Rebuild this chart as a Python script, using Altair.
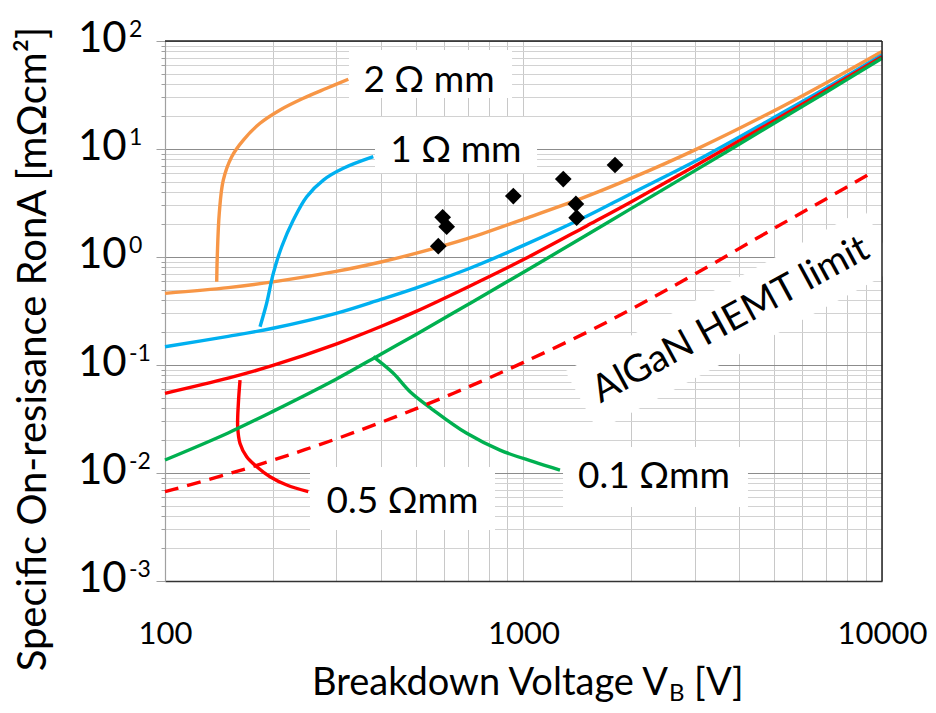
import altair as alt
import pandas as pd

FONT = "Lato"
ORANGE = "#F79646"
BLUE = "#00B0F0"
RED = "#FF0000"
GREEN = "#00B050"

# ---- main curves (Ron*A vs breakdown voltage) ----
V_MAIN = [100, 150, 200, 300, 400, 500, 700, 1000, 1500, 2000, 3000, 5000, 7000, 10000]
R_2OHM = [0.461, 0.521, 0.588, 0.735, 0.899, 1.079, 1.486, 2.24, 3.64, 5.37, 9.77, 22.6, 41.1, 79.8]
R_1OHM = [0.1476, 0.184, 0.219, 0.301, 0.405, 0.516, 0.774, 1.28, 2.38, 3.88, 7.65, 19.6, 36.9, 74.2]
R_05OHM = [0.0547, 0.0755, 0.099, 0.156, 0.227, 0.312, 0.528, 0.946, 1.94, 3.25, 6.93, 18.3, 35.2, 71.6]
R_01OHM = [0.0132, 0.0235, 0.0372, 0.0738, 0.126, 0.191, 0.363, 0.723, 1.60, 2.82, 6.27, 17.3, 33.7, 69.2]

# ---- hook branches ----
V_2H = [139.4, 139.9, 141.7, 145.4, 153.5, 165.4, 184.1, 209.4, 243.1, 282.5, 324.6]
R_2H = [0.590, 1.007, 2.54, 5.16, 8.49, 12.1, 17.3, 23.0, 29.5, 36.5, 44.2]
V_1H = [184.1, 192.1, 200.5, 211.6, 228.0, 248.5, 276.5, 314.3, 381.1]
R_1H = [0.226, 0.373, 0.706, 1.245, 2.20, 3.62, 5.16, 6.63, 8.49]
V_05H = [161.9, 160.2, 159.5, 161.9, 169.0, 180.3, 196.3, 218.6, 251.0]
R_05H = [0.0726, 0.0442, 0.0268, 0.0188, 0.01416, 0.01143, 0.00924, 0.00774, 0.00671]
V_01H = [381.1, 433.4, 482.6, 560.3, 694.6, 859.8, 1065, 1264]
R_01H = [0.1194, 0.0838, 0.0566, 0.0383, 0.0233, 0.0163, 0.01274, 0.01066]

# ---- AlGaN HEMT limit (dashed) ----
V_LIMIT = [100, 150, 200, 300, 400, 500, 700, 1000, 1500, 2000, 3000, 5000, 7000, 9460]
R_LIMIT = [0.00671, 0.00979, 0.01313, 0.02067, 0.02938, 0.03926, 0.0624, 0.1057, 0.2004, 0.3289, 0.6918, 1.841, 3.467, 6.166]

# ---- measured devices ----
V_PTS = [578.5, 595, 610.6, 936.7, 1291, 1400, 1407, 1800]
R_PTS = [1.26, 2.33, 1.91, 3.67, 5.27, 3.1, 2.31, 7.11]

# ---- annotations ----
LABEL_TEXT = ["2 Ω mm", "1 Ω mm", "0.5 Ωmm", "0.1 Ωmm"]
LABEL_V = [545, 648, 459.6, 2312]
LABEL_R = [33.7, 7.58, 0.004262, 0.007263]
BOX_V1 = [326.1, 385.3, 253.8, 1289]
BOX_V2 = [929, 1091, 832.7, 4228]
BOX_R1 = [29.6, 6.0, 0.002965, 0.00484]
BOX_R2 = [82.5, 19.8, 0.01137, 0.0174]
LIMIT_TEXT = "AlGaN HEMT limit"
LIMIT_TEXT_V = [3790]
LIMIT_TEXT_R = [0.26]
LIMIT_BAND_V = [1452, 9897]
LIMIT_BAND_R = [0.0463, 1.47]

Y_TICKS = [100, 10, 1, 0.1, 0.01, 0.001]
Y_EXP = ["2", "1", "0", "-1", "-2", "-3"]

X_GRID = [round(m * 10 ** e, 6) for e in (2, 3) for m in range(1, 10)] + [10000]
Y_GRID = [round(m * 10.0 ** e, 8) for e in (-3, -2, -1, 0, 1) for m in range(1, 10)] + [100]

rows = []
def add(name, vs, rs):
    for i, (v, r) in enumerate(zip(vs, rs)):
        rows.append({"series": name, "idx": i, "V": v, "R": r})

add("2", V_MAIN, R_2OHM)
add("2h", V_2H, R_2H)
add("1", V_MAIN, R_1OHM)
add("1h", V_1H, R_1H)
add("0.5", V_MAIN, R_05OHM)
add("0.5h", V_05H, R_05H)
add("0.1", V_MAIN, R_01OHM)
add("0.1h", V_01H, R_01H)
lines_df = pd.DataFrame(rows)

limit_df = pd.DataFrame({"V": V_LIMIT, "R": R_LIMIT, "idx": range(len(V_LIMIT))})
pts_df = pd.DataFrame({"V": V_PTS, "R": R_PTS})
labels_df = pd.DataFrame({"t": LABEL_TEXT, "V": LABEL_V, "R": LABEL_R})
boxes_df = pd.DataFrame({"V": BOX_V1, "V2": BOX_V2, "R": BOX_R1, "R2": BOX_R2})
band_df = pd.DataFrame({"V": LIMIT_BAND_V, "R": LIMIT_BAND_R, "idx": [0, 1]})
limtext_df = pd.DataFrame({"V": LIMIT_TEXT_V, "R": LIMIT_TEXT_R, "t": [LIMIT_TEXT]})
yt_df = pd.DataFrame({"R": Y_TICKS, "e": Y_EXP})
frame_df = pd.DataFrame({"V": [100, 10000], "V2": [10000, 10000], "R": [100, 0.001], "R2": [100, 100]})

xs = alt.Scale(type="log", domain=[100, 10000], nice=False)
ys = alt.Scale(type="log", domain=[0.001, 100], nice=False)

major_y = ("datum.value == 0.001 || datum.value == 0.01 || datum.value == 0.1 || "
           "datum.value == 1 || datum.value == 10 || datum.value == 100")

x_axis = alt.Axis(
    values=X_GRID,
    labelExpr="(datum.value == 100 || datum.value == 1000 || datum.value == 10000) ? '' + datum.value : ''",
    ticks=False, grid=True, gridColor="#c8c8c8", gridWidth=1,
    domainColor="#333333", domainWidth=1.5,
    labelFont=FONT, labelFontSize=31, labelColor="black", labelPadding=38,
    labelFlush=False, labelOverlap=False, title=None,
)
y_axis = alt.Axis(
    values=Y_GRID, labels=False, ticks=True,
    tickSize={"condition": {"test": major_y, "value": 9}, "value": 4},
    tickColor="#a0a0a0", domainColor="#a0a0a0", domainWidth=1.2,
    grid=True,
    gridColor={"condition": {"test": major_y, "value": "#8c8c8c"}, "value": "#d2d2d2"},
    gridWidth=1, title=None,
)

X = lambda f="V": alt.X(f + ":Q", scale=xs, axis=x_axis)
Y = lambda f="R": alt.Y(f + ":Q", scale=ys, axis=y_axis)

band = alt.Chart(band_df).mark_line(color="white", strokeWidth=68, strokeCap="butt").encode(
    x=X(), y=Y(), order="idx:Q"
)
boxes = alt.Chart(boxes_df).mark_rect(color="white").encode(
    x=X(), x2="V2:Q", y=Y(), y2="R2:Q",
)
curves = alt.Chart(lines_df).mark_line(strokeWidth=3.4, interpolate="catmull-rom").encode(
    x=X(), y=Y(),
    color=alt.Color("series:N", legend=None, scale=alt.Scale(
        domain=["0.1", "0.1h", "0.5", "0.5h", "1", "1h", "2", "2h"],
        range=[GREEN, GREEN, RED, RED, BLUE, BLUE, ORANGE, ORANGE])),
    order="idx:Q",
)
limit = alt.Chart(limit_df).mark_line(strokeWidth=3.4, color=RED, strokeDash=[14, 9],
                                      interpolate="catmull-rom").encode(
    x=X(), y=Y(), order="idx:Q"
)
pts = alt.Chart(pts_df).mark_point(shape="diamond", filled=True, size=280, color="black", opacity=1).encode(
    x=X(), y=Y()
)
frame = alt.Chart(frame_df).mark_rule(color="#222222", strokeWidth=1.5).encode(
    x=X(), x2="V2:Q", y=Y(), y2="R2:Q",
)
labels = alt.Chart(labels_df).mark_text(font=FONT, fontSize=37, align="center", baseline="alphabetic",
                                        color="black").encode(
    x=X(), y=Y(), text="t:N"
)
limtext = alt.Chart(limtext_df).mark_text(font=FONT, fontSize=38, align="center", baseline="middle",
                                          angle=331.5, color="black").encode(
    x=X(), y=Y(), text="t:N"
)
ybase = alt.Chart(yt_df).mark_text(font=FONT, fontSize=42, align="left", baseline="alphabetic", dy=11,
                                   color="black").encode(
    x=alt.value(-87), y=Y(), text=alt.value("10")
)
yexp = alt.Chart(yt_df).mark_text(font=FONT, fontSize=23, align="left", baseline="alphabetic", dy=-4,
                                  color="black").encode(
    x=alt.value(-36), y=Y(), text="e:N"
)
title_df = pd.DataFrame({"a": [0]})
ytitle = alt.Chart(title_df).mark_text(font=FONT, fontSize=40, angle=270, align="center", baseline="middle",
                                       color="black").encode(
    x=alt.value(-131), y=alt.value(308), text=alt.value("Specific On-resisance RonA [mΩcm²]")
)
xt1 = alt.Chart(title_df).mark_text(font=FONT, fontSize=38, align="right", baseline="alphabetic",
                                    color="black").encode(
    x=alt.value(503), y=alt.value(654), text=alt.value("Breakdown Voltage V")
)
xt2 = alt.Chart(title_df).mark_text(font=FONT, fontSize=24, align="left", baseline="alphabetic",
                                    color="black").encode(
    x=alt.value(504), y=alt.value(660), text=alt.value("B")
)
xt3 = alt.Chart(title_df).mark_text(font=FONT, fontSize=38, align="left", baseline="alphabetic",
                                    color="black").encode(
    x=alt.value(529), y=alt.value(654), text=alt.value("[V]")
)

chart = alt.layer(
    band, boxes, curves, limit, pts, frame, labels, limtext, ybase, yexp, ytitle, xt1, xt2, xt3
).properties(
    width=717, height=540,
    padding={"left": 157, "top": 33, "right": 46, "bottom": 124},
    autosize=alt.AutoSizeParams(type="none"),
    background="white",
).configure_view(strokeWidth=0)

chart.save("out.html", embed_options={"renderer": "svg", "actions": False})
